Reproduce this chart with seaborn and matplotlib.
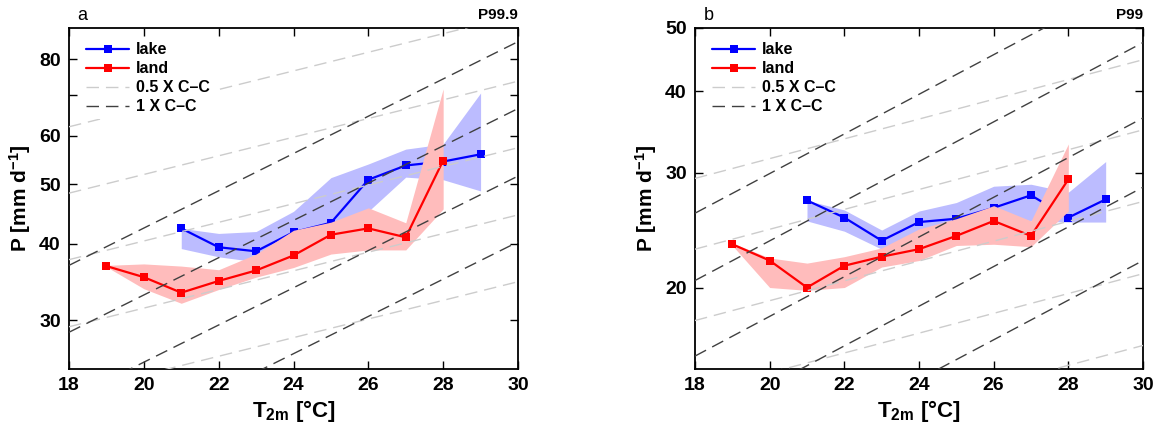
import numpy as np
import seaborn as sns
import matplotlib.pyplot as plt
from matplotlib.lines import Line2D
from matplotlib.ticker import FixedLocator, FixedFormatter, NullLocator

# temperature bins
t_lake = [21, 22, 23, 24, 25, 26, 27, 28, 29]
t_land = [19, 20, 21, 22, 23, 24, 25, 26, 27, 28]

# panel a: P99.9
a_lake = [42.4, 39.5, 38.9, 41.8, 43.3, 50.9, 53.7, 54.5, 56.0]
a_lake_lo = [39.3, 38.1, 37.4, 40.5, 42.5, 45.2, 51.4, 50.9, 48.8]
a_lake_hi = [42.4, 41.6, 41.9, 45.2, 51.3, 54.0, 57.1, 58.2, 70.5]
a_land = [36.8, 35.3, 33.3, 34.8, 36.2, 38.3, 41.4, 42.4, 41.0, 54.7]
a_land_lo = [36.7, 33.8, 32.0, 33.7, 35.3, 36.6, 38.5, 39.1, 39.1, 45.6]
a_land_hi = [36.9, 37.1, 36.8, 36.3, 38.5, 42.1, 43.4, 45.8, 43.3, 71.6]

# panel b: P99
b_lake = [27.2, 25.6, 23.6, 25.2, 25.5, 26.5, 27.7, 25.6, 27.3]
b_lake_lo = [25.3, 24.4, 22.9, 24.5, 25.0, 26.0, 25.3, 25.2, 25.2]
b_lake_hi = [27.2, 26.3, 24.5, 26.2, 27.0, 28.6, 28.8, 28.0, 31.2]
b_land = [23.3, 22.0, 20.0, 21.6, 22.3, 22.9, 24.0, 25.3, 24.0, 29.3]
b_land_lo = [23.2, 20.0, 19.8, 20.0, 21.5, 22.0, 23.2, 23.3, 23.1, 26.2]
b_land_hi = [23.4, 22.2, 21.8, 22.3, 23.0, 24.6, 25.5, 26.7, 25.3, 33.2]

# Clausius-Clapeyron reference lines: value at 18 C and at 30 C
cc_t = [18, 30]
a_cc1_start = [36.9, 28.7, 22.3, 17.4]
a_cc1_end = [85.5, 66.5, 51.6, 40.3]
a_cc05_start = [62.1, 48.4, 37.7, 29.3, 22.8]
a_cc05_end = [94.5, 73.7, 57.4, 44.6, 34.7]
b_cc1_start = [26.0, 20.5, 15.7, 12.3, 9.5]
b_cc1_end = [60.2, 47.5, 36.4, 28.5, 22.0]
b_cc05_start = [29.4, 22.9, 17.8, 13.8, 10.7]
b_cc05_end = [44.7, 34.9, 27.1, 21.0, 16.3]

sns.set_style("ticks")
plt.rcParams['font.family'] = ['Liberation Sans', 'DejaVu Sans']
plt.rcParams['mathtext.fontset'] = 'custom'
plt.rcParams['mathtext.rm'] = 'Liberation Sans:bold'
plt.rcParams['mathtext.it'] = 'Liberation Sans:bold'
plt.rcParams['mathtext.bf'] = 'Liberation Sans:bold'
plt.rcParams['text.color'] = 'black'
plt.rcParams['axes.labelcolor'] = 'black'
plt.rcParams['xtick.color'] = 'black'
plt.rcParams['ytick.color'] = 'black'

BLUE = '#0000ff'
RED = '#ff0000'
BLUE_FILL = '#bcbcff'
RED_FILL = '#ffbcbc'
GRAY = '#cccccc'
DARK = '#404040'

fig = plt.figure(figsize=(11.63, 4.32), dpi=100)
ax_a = fig.add_axes([69 / 1163, 1 - 369 / 432, 449 / 1163, 341 / 432])
ax_b = fig.add_axes([695 / 1163, 1 - 369 / 432, 448 / 1163, 341 / 432])


def draw_panel(ax, lake, lake_lo, lake_hi, land, land_lo, land_hi,
               cc1_s, cc1_e, cc05_s, cc05_e, ylim, yticks, ylabels, letter, title):
    ax.fill_between(t_lake, lake_lo, lake_hi, color=BLUE_FILL, lw=0, zorder=1)
    sns.lineplot(x=t_lake, y=lake, ax=ax, color=BLUE, marker='s', markersize=5.5,
                 markeredgewidth=0, linewidth=1.6, zorder=2)
    ax.fill_between(t_land, land_lo, land_hi, color=RED_FILL, lw=0, zorder=3)
    sns.lineplot(x=t_land, y=land, ax=ax, color=RED, marker='s', markersize=5.5,
                 markeredgewidth=0, linewidth=1.6, zorder=4)
    for s, e in zip(cc05_s, cc05_e):
        ax.plot(cc_t, [s, e], color=GRAY, lw=1.0, dashes=(9, 5), zorder=5)
    for s, e in zip(cc1_s, cc1_e):
        ax.plot(cc_t, [s, e], color=DARK, lw=1.0, dashes=(9, 5), zorder=5)

    ax.set_yscale('log')
    ax.set_xlim(18, 30)
    ax.set_ylim(*ylim)
    ax.set_xticks(range(18, 31, 2))
    ax.yaxis.set_major_locator(FixedLocator(yticks))
    ax.yaxis.set_major_formatter(FixedFormatter(ylabels))
    ax.yaxis.set_minor_locator(NullLocator())
    ax.tick_params(direction='in', length=6, width=1.0, top=True, right=True,
                   labelsize=14, pad=6, colors='black')
    for lab in ax.get_xticklabels() + ax.get_yticklabels():
        lab.set_fontweight('bold')
    for sp in ax.spines.values():
        sp.set_visible(True)
        sp.set_linewidth(1.3)
        sp.set_color('black')
    ax.grid(False)

    ax.set_xlabel(r'T$_{\mathregular{2m}}$ [°C]', fontsize=16, fontweight='bold')
    ax.set_ylabel(r'P [mm d$^{\mathregular{-1}}$]', fontsize=15, fontweight='bold')
    ax.xaxis.set_label_coords(0.5, -0.085)
    ax.yaxis.set_label_coords(-0.08, 0.5)

    ax.text(0.03, 1.038, letter, transform=ax.transAxes, fontsize=13,
            ha='center', va='center')
    ax.text(1.0, 1.038, title, transform=ax.transAxes, fontsize=11,
            fontweight='bold', ha='right', va='center')

    handles = [
        Line2D([], [], color=BLUE, marker='s', markersize=5.5, markeredgewidth=0, lw=1.6),
        Line2D([], [], color=RED, marker='s', markersize=5.5, markeredgewidth=0, lw=1.6),
        Line2D([], [], color=GRAY, lw=1.0, dashes=(9, 5)),
        Line2D([], [], color=DARK, lw=1.0, dashes=(9, 5)),
    ]
    leg = ax.legend(handles, ['lake', 'land', '0.5 X C\u2013C', '1 X C\u2013C'],
                    loc='upper left', bbox_to_anchor=(0.01, 0.995),
                    frameon=True, facecolor='white', edgecolor='none', framealpha=1,
                    prop={'weight': 'bold', 'size': 11.5}, handlelength=2.7,
                    handletextpad=0.4, labelspacing=0.25, borderpad=0.3)
    leg.set_zorder(10)


draw_panel(ax_a, a_lake, a_lake_lo, a_lake_hi, a_land, a_land_lo, a_land_hi,
           a_cc1_start, a_cc1_end, a_cc05_start, a_cc05_end,
           (25, 90), [30, 40, 50, 60, 70, 80], ['30', '40', '50', '60', '', '80'],
           'a', 'P99.9')
draw_panel(ax_b, b_lake, b_lake_lo, b_lake_hi, b_land, b_land_lo, b_land_hi,
           b_cc1_start, b_cc1_end, b_cc05_start, b_cc05_end,
           (15, 50), [20, 30, 40, 50], ['20', '30', '40', '50'],
           'b', 'P99')

plt.savefig('out.png', dpi=100)
